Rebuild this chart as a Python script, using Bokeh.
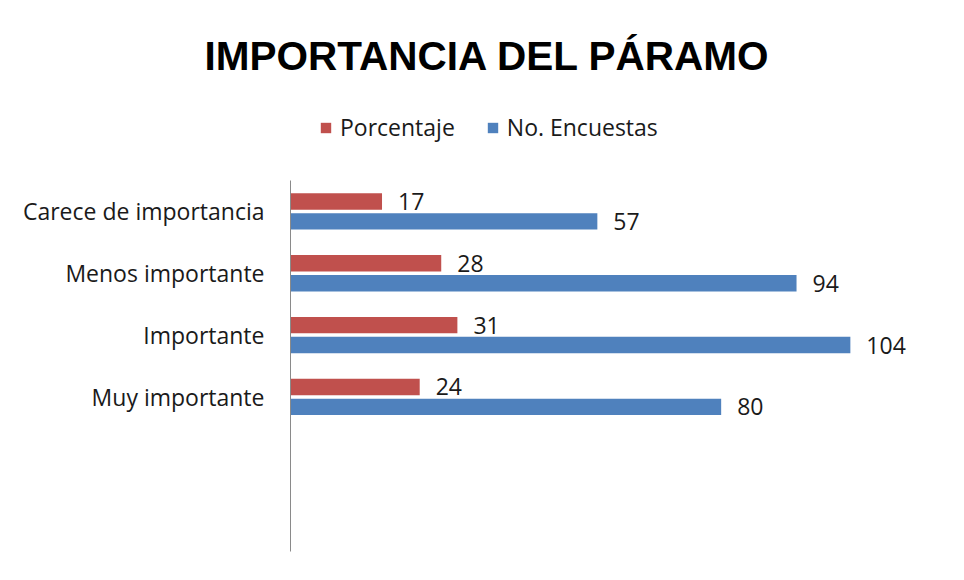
from bokeh.plotting import figure
from bokeh.models import (ColumnDataSource, Range1d, Legend, LegendItem,
                          FixedTicker)
from bokeh.transform import dodge
from bokeh.core.properties import value
from bokeh.embed import file_html
from bokeh.resources import INLINE

title_text = "IMPORTANCIA DEL PÁRAMO"
categories = ["Carece de importancia", "Menos importante", "Importante", "Muy importante"]
porcentaje = [17, 28, 31, 24]
encuestas = [57, 94, 104, 80]
series_names = ["Porcentaje", "No. Encuestas"]
colors = ["#C0504D", "#4F81BD"]

# category slots on the value axis (4 used + 2 empty at the bottom)
n_slots = 6
y_pos = [float(n_slots - 0.5 - i) for i in range(len(categories))]

W, H = 956, 572
frame_left, frame_right = 290, 936
frame_top, frame_bottom = 90, 551
axis_top = 180
band_px = (frame_bottom - axis_top) / n_slots
y_top = (frame_bottom - frame_top) / band_px

src = ColumnDataSource(dict(
    y=y_pos,
    cat=categories,
    pct=porcentaje,
    enc=encuestas,
    pct_lbl=[str(v) for v in porcentaje],
    enc_lbl=[str(v) for v in encuestas],
))

p = figure(
    y_range=Range1d(0, y_top),
    x_range=Range1d(0, 120),
    width=W, height=H,
    output_backend="svg", toolbar_location=None,
    min_border_left=frame_left, min_border_right=W - frame_right,
    min_border_top=frame_top, min_border_bottom=H - frame_bottom,
    title=title_text,
)
p.title.align = "left"
p.title.offset = -86
p.title.vertical_align = "bottom"
p.title.standoff = 23
p.title.text_font = "Liberation Sans"
p.title.text_font_style = "bold"
p.title.text_font_size = "40.5px"
p.title.text_color = "#000000"

p.xaxis.visible = False
p.grid.visible = False
p.outline_line_color = None

ax = p.yaxis[0]
ax.ticker = FixedTicker(ticks=y_pos)
ax.major_label_overrides = {v: c for v, c in zip(y_pos, categories)}
ax.bounds = (0, n_slots)
ax.axis_line_color = "#8a8a8a"
ax.major_tick_line_color = None
ax.minor_tick_line_color = None
ax.major_label_text_font = "Open Sans"
ax.major_label_text_font_size = "23px"
ax.major_label_text_color = "#1a1a1a"
ax.major_label_standoff = 20

off = 0.161
bh = 0.265
r1 = p.hbar(y=dodge("y", off), left=0, right="pct", height=bh,
            source=src, fill_color=colors[0], line_color=None)
r2 = p.hbar(y=dodge("y", -off), left=0, right="enc", height=bh,
            source=src, fill_color=colors[1], line_color=None)

common = dict(source=src, x_offset=16, text_baseline="middle", text_align="left",
              text_font=value("Open Sans"), text_font_size="23px", text_color="#1a1a1a")
p.text(x="pct", y=dodge("y", off), text="pct_lbl", **common)
p.text(x="enc", y=dodge("y", -off), text="enc_lbl", **common)

legend = Legend(
    items=[LegendItem(label=series_names[0], renderers=[r1]),
           LegendItem(label=series_names[1], renderers=[r2])],
    orientation="horizontal", location=(29, 408),
    padding=0, margin=0, border_line_color=None, background_fill_alpha=0,
    glyph_width=13, glyph_height=13, label_standoff=8, spacing=31,
    label_text_font="Open Sans", label_text_font_size="23px", label_text_color="#1a1a1a",
)
p.add_layout(legend)

open("out.html", "w").write(file_html(p, INLINE))
